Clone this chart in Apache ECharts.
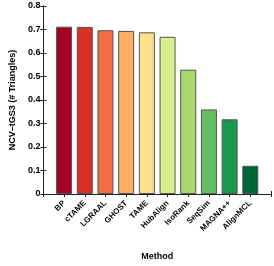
<!DOCTYPE html>
<html><head><meta charset="utf-8">
<script src="https://cdn.jsdelivr.net/npm/echarts@6/dist/echarts.min.js"></script>
<style>html,body{margin:0;padding:0;background:#fff}#c{width:274px;height:266px}</style>
</head><body><div id="c"></div>
<script>
const categories = ['BP','cTAME','LGRAAL','GHOST','TAME','HubAlign','IsoRank','SeqSim','MAGNA++','AlignMCL'];
const values = [0.712, 0.711, 0.697, 0.694, 0.688, 0.669, 0.529, 0.360, 0.318, 0.120];
const colors = ['#a50026','#d73027','#f46d43','#fdae61','#fee08b','#d9ef8b','#a6d96a','#66bd63','#1a9850','#006837'];
const yTicks = [0,0.1,0.2,0.3,0.4,0.5,0.6,0.7,0.8];
const font = 'Liberation Sans, Arial, sans-serif';
const chart = echarts.init(document.getElementById('c'));
const axisCommon = {min:0, max:11, interval:1,
  axisLine:{show:true, lineStyle:{color:'#222', width:1}},
  axisTick:{show:true, inside:true, length:3, lineStyle:{color:'#222'}},
  splitLine:{show:false}};
chart.setOption({
  animation:false,
  grid:{left:33, right:3, top:6, bottom:69},
  xAxis:[
    Object.assign({type:'value', position:'bottom',
      name:'Method', nameLocation:'middle', nameGap:58,
      nameTextStyle:{fontFamily:font, fontWeight:'bold', fontSize:9, color:'#000'},
      axisLabel:{rotate:45, fontFamily:font, fontWeight:'bold', fontSize:8, color:'#000', margin:8,
        formatter:v => categories[v-1] || ''}}, axisCommon),
    Object.assign({type:'value', position:'top', axisLabel:{show:false}}, axisCommon)
  ],
  yAxis:[
    {type:'value', min:0, max:0.8, interval:0.1, position:'left',
      name:'NCV\u2013tGS3 (# Triangles)', nameLocation:'middle', nameGap:24,
      nameTextStyle:{fontFamily:font, fontWeight:'bold', fontSize:9, color:'#000'},
      axisLine:{show:true, lineStyle:{color:'#222'}},
      axisTick:{show:true, inside:true, length:3, lineStyle:{color:'#222'}},
      axisLabel:{fontFamily:font, fontWeight:'bold', fontSize:9, color:'#000', margin:3,
        formatter:v => { const t = yTicks.find(x => Math.abs(x-v)<1e-9); return t===0 ? '0' : String(+v.toFixed(1)); }},
      splitLine:{show:false}},
    {type:'value', min:0, max:0.8, interval:0.1, position:'right',
      axisLine:{show:true, lineStyle:{color:'#222'}},
      axisTick:{show:true, inside:true, length:3, lineStyle:{color:'#222'}},
      axisLabel:{show:false}, splitLine:{show:false}}
  ],
  series:[{
    type:'bar', xAxisIndex:0, yAxisIndex:0, barWidth:16,
    data: values.map((v,i) => ({value:[i+1, v], itemStyle:{color:colors[i], borderColor:'#555', borderWidth:1}}))
  }]
});
</script></body></html>
